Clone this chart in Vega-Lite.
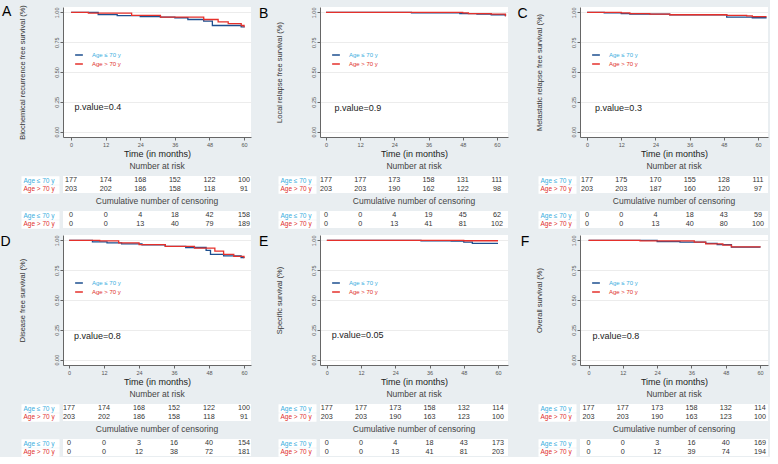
{
  "$schema": "https://vega.github.io/schema/vega-lite/v6.json",
  "background": "#e9eef1",
  "padding": {"left": 0, "top": 4, "right": 0, "bottom": 0},
  "datasets": {
    "km": [
      {"p":"A","g":"le","t":0,"s":1},{"p":"A","g":"le","t":9.4,"s":0.981},{"p":"A","g":"le","t":16,"s":0.973},{"p":"A","g":"le","t":24,"s":0.965},{"p":"A","g":"le","t":31,"s":0.96},{"p":"A","g":"le","t":36,"s":0.955},{"p":"A","g":"le","t":40.5,"s":0.94},{"p":"A","g":"le","t":46,"s":0.926},{"p":"A","g":"le","t":49,"s":0.89},{"p":"A","g":"le","t":59,"s":0.878},{"p":"A","g":"le","t":60,"s":0.873},
      {"p":"A","g":"gt","t":0,"s":1},{"p":"A","g":"gt","t":6,"s":0.994},{"p":"A","g":"gt","t":21,"s":0.975},{"p":"A","g":"gt","t":31,"s":0.96},{"p":"A","g":"gt","t":46,"s":0.94},{"p":"A","g":"gt","t":51,"s":0.92},{"p":"A","g":"gt","t":54.5,"s":0.906},{"p":"A","g":"gt","t":59,"s":0.89},{"p":"A","g":"gt","t":60,"s":0.875},
      {"p":"B","g":"le","t":0,"s":1},{"p":"B","g":"le","t":30,"s":0.996},{"p":"B","g":"le","t":47,"s":0.99},{"p":"B","g":"le","t":53,"s":0.985},{"p":"B","g":"le","t":58,"s":0.98},{"p":"B","g":"le","t":63,"s":0.968},
      {"p":"B","g":"gt","t":0,"s":1},{"p":"B","g":"gt","t":48,"s":0.995},{"p":"B","g":"gt","t":50,"s":0.99},{"p":"B","g":"gt","t":58,"s":0.985},{"p":"B","g":"gt","t":63,"s":0.968},
      {"p":"C","g":"le","t":0,"s":1},{"p":"C","g":"le","t":6,"s":0.997},{"p":"C","g":"le","t":12,"s":0.99},{"p":"C","g":"le","t":15,"s":0.985},{"p":"C","g":"le","t":29,"s":0.98},{"p":"C","g":"le","t":49,"s":0.96},{"p":"C","g":"le","t":58,"s":0.955},{"p":"C","g":"le","t":63,"s":0.955},
      {"p":"C","g":"gt","t":0,"s":1},{"p":"C","g":"gt","t":12,"s":0.995},{"p":"C","g":"gt","t":15,"s":0.99},{"p":"C","g":"gt","t":22,"s":0.985},{"p":"C","g":"gt","t":29,"s":0.98},{"p":"C","g":"gt","t":49,"s":0.975},{"p":"C","g":"gt","t":56,"s":0.97},{"p":"C","g":"gt","t":58,"s":0.965},{"p":"C","g":"gt","t":63,"s":0.965},
      {"p":"D","g":"le","t":0,"s":1},{"p":"D","g":"le","t":8,"s":0.987},{"p":"D","g":"le","t":13,"s":0.979},{"p":"D","g":"le","t":18,"s":0.97},{"p":"D","g":"le","t":25,"s":0.962},{"p":"D","g":"le","t":33,"s":0.95},{"p":"D","g":"le","t":40,"s":0.94},{"p":"D","g":"le","t":47,"s":0.916},{"p":"D","g":"le","t":48.5,"s":0.883},{"p":"D","g":"le","t":53,"s":0.87},{"p":"D","g":"le","t":59,"s":0.856},{"p":"D","g":"le","t":60,"s":0.855},
      {"p":"D","g":"gt","t":0,"s":1},{"p":"D","g":"gt","t":10.5,"s":0.995},{"p":"D","g":"gt","t":17,"s":0.979},{"p":"D","g":"gt","t":24,"s":0.965},{"p":"D","g":"gt","t":33,"s":0.95},{"p":"D","g":"gt","t":43,"s":0.935},{"p":"D","g":"gt","t":50,"s":0.91},{"p":"D","g":"gt","t":53,"s":0.883},{"p":"D","g":"gt","t":56.5,"s":0.865},{"p":"D","g":"gt","t":60,"s":0.85},
      {"p":"E","g":"le","t":0,"s":1},{"p":"E","g":"le","t":33,"s":0.997},{"p":"E","g":"le","t":43.6,"s":0.994},{"p":"E","g":"le","t":48,"s":0.985},{"p":"E","g":"le","t":51,"s":0.975},{"p":"E","g":"le","t":60,"s":0.975},
      {"p":"E","g":"gt","t":0,"s":1},{"p":"E","g":"gt","t":48,"s":0.997},{"p":"E","g":"gt","t":60,"s":0.997},
      {"p":"F","g":"le","t":0,"s":1},{"p":"F","g":"le","t":24,"s":0.99},{"p":"F","g":"le","t":32,"s":0.985},{"p":"F","g":"le","t":41,"s":0.975},{"p":"F","g":"le","t":45,"s":0.965},{"p":"F","g":"le","t":50,"s":0.943},{"p":"F","g":"le","t":60,"s":0.94},
      {"p":"F","g":"gt","t":0,"s":1},{"p":"F","g":"gt","t":18,"s":0.995},{"p":"F","g":"gt","t":37,"s":0.985},{"p":"F","g":"gt","t":41,"s":0.97},{"p":"F","g":"gt","t":47,"s":0.96},{"p":"F","g":"gt","t":50,"s":0.945},{"p":"F","g":"gt","t":60,"s":0.94}
    ],
    "tab": [
      {"p":"A","k":"r","g":"le","t":0,"n":177},{"p":"A","k":"r","g":"le","t":12,"n":174},{"p":"A","k":"r","g":"le","t":24,"n":168},{"p":"A","k":"r","g":"le","t":36,"n":152},{"p":"A","k":"r","g":"le","t":48,"n":122},{"p":"A","k":"r","g":"le","t":60,"n":100},
      {"p":"A","k":"r","g":"gt","t":0,"n":203},{"p":"A","k":"r","g":"gt","t":12,"n":202},{"p":"A","k":"r","g":"gt","t":24,"n":186},{"p":"A","k":"r","g":"gt","t":36,"n":158},{"p":"A","k":"r","g":"gt","t":48,"n":118},{"p":"A","k":"r","g":"gt","t":60,"n":91},
      {"p":"A","k":"c","g":"le","t":0,"n":0},{"p":"A","k":"c","g":"le","t":12,"n":0},{"p":"A","k":"c","g":"le","t":24,"n":4},{"p":"A","k":"c","g":"le","t":36,"n":18},{"p":"A","k":"c","g":"le","t":48,"n":42},{"p":"A","k":"c","g":"le","t":60,"n":158},
      {"p":"A","k":"c","g":"gt","t":0,"n":0},{"p":"A","k":"c","g":"gt","t":12,"n":0},{"p":"A","k":"c","g":"gt","t":24,"n":13},{"p":"A","k":"c","g":"gt","t":36,"n":40},{"p":"A","k":"c","g":"gt","t":48,"n":79},{"p":"A","k":"c","g":"gt","t":60,"n":189},
      {"p":"B","k":"r","g":"le","t":0,"n":177},{"p":"B","k":"r","g":"le","t":12,"n":177},{"p":"B","k":"r","g":"le","t":24,"n":173},{"p":"B","k":"r","g":"le","t":36,"n":158},{"p":"B","k":"r","g":"le","t":48,"n":131},{"p":"B","k":"r","g":"le","t":60,"n":111},
      {"p":"B","k":"r","g":"gt","t":0,"n":203},{"p":"B","k":"r","g":"gt","t":12,"n":203},{"p":"B","k":"r","g":"gt","t":24,"n":190},{"p":"B","k":"r","g":"gt","t":36,"n":162},{"p":"B","k":"r","g":"gt","t":48,"n":122},{"p":"B","k":"r","g":"gt","t":60,"n":98},
      {"p":"B","k":"c","g":"le","t":0,"n":0},{"p":"B","k":"c","g":"le","t":12,"n":0},{"p":"B","k":"c","g":"le","t":24,"n":4},{"p":"B","k":"c","g":"le","t":36,"n":19},{"p":"B","k":"c","g":"le","t":48,"n":45},{"p":"B","k":"c","g":"le","t":60,"n":62},
      {"p":"B","k":"c","g":"gt","t":0,"n":0},{"p":"B","k":"c","g":"gt","t":12,"n":0},{"p":"B","k":"c","g":"gt","t":24,"n":13},{"p":"B","k":"c","g":"gt","t":36,"n":41},{"p":"B","k":"c","g":"gt","t":48,"n":81},{"p":"B","k":"c","g":"gt","t":60,"n":102},
      {"p":"C","k":"r","g":"le","t":0,"n":177},{"p":"C","k":"r","g":"le","t":12,"n":175},{"p":"C","k":"r","g":"le","t":24,"n":170},{"p":"C","k":"r","g":"le","t":36,"n":155},{"p":"C","k":"r","g":"le","t":48,"n":128},{"p":"C","k":"r","g":"le","t":60,"n":111},
      {"p":"C","k":"r","g":"gt","t":0,"n":203},{"p":"C","k":"r","g":"gt","t":12,"n":203},{"p":"C","k":"r","g":"gt","t":24,"n":187},{"p":"C","k":"r","g":"gt","t":36,"n":160},{"p":"C","k":"r","g":"gt","t":48,"n":120},{"p":"C","k":"r","g":"gt","t":60,"n":97},
      {"p":"C","k":"c","g":"le","t":0,"n":0},{"p":"C","k":"c","g":"le","t":12,"n":0},{"p":"C","k":"c","g":"le","t":24,"n":4},{"p":"C","k":"c","g":"le","t":36,"n":18},{"p":"C","k":"c","g":"le","t":48,"n":43},{"p":"C","k":"c","g":"le","t":60,"n":59},
      {"p":"C","k":"c","g":"gt","t":0,"n":0},{"p":"C","k":"c","g":"gt","t":12,"n":0},{"p":"C","k":"c","g":"gt","t":24,"n":13},{"p":"C","k":"c","g":"gt","t":36,"n":40},{"p":"C","k":"c","g":"gt","t":48,"n":80},{"p":"C","k":"c","g":"gt","t":60,"n":100},
      {"p":"D","k":"r","g":"le","t":0,"n":177},{"p":"D","k":"r","g":"le","t":12,"n":174},{"p":"D","k":"r","g":"le","t":24,"n":168},{"p":"D","k":"r","g":"le","t":36,"n":152},{"p":"D","k":"r","g":"le","t":48,"n":122},{"p":"D","k":"r","g":"le","t":60,"n":100},
      {"p":"D","k":"r","g":"gt","t":0,"n":203},{"p":"D","k":"r","g":"gt","t":12,"n":202},{"p":"D","k":"r","g":"gt","t":24,"n":186},{"p":"D","k":"r","g":"gt","t":36,"n":158},{"p":"D","k":"r","g":"gt","t":48,"n":118},{"p":"D","k":"r","g":"gt","t":60,"n":91},
      {"p":"D","k":"c","g":"le","t":0,"n":0},{"p":"D","k":"c","g":"le","t":12,"n":0},{"p":"D","k":"c","g":"le","t":24,"n":3},{"p":"D","k":"c","g":"le","t":36,"n":16},{"p":"D","k":"c","g":"le","t":48,"n":40},{"p":"D","k":"c","g":"le","t":60,"n":154},
      {"p":"D","k":"c","g":"gt","t":0,"n":0},{"p":"D","k":"c","g":"gt","t":12,"n":0},{"p":"D","k":"c","g":"gt","t":24,"n":12},{"p":"D","k":"c","g":"gt","t":36,"n":38},{"p":"D","k":"c","g":"gt","t":48,"n":72},{"p":"D","k":"c","g":"gt","t":60,"n":181},
      {"p":"E","k":"r","g":"le","t":0,"n":177},{"p":"E","k":"r","g":"le","t":12,"n":177},{"p":"E","k":"r","g":"le","t":24,"n":173},{"p":"E","k":"r","g":"le","t":36,"n":158},{"p":"E","k":"r","g":"le","t":48,"n":132},{"p":"E","k":"r","g":"le","t":60,"n":114},
      {"p":"E","k":"r","g":"gt","t":0,"n":203},{"p":"E","k":"r","g":"gt","t":12,"n":203},{"p":"E","k":"r","g":"gt","t":24,"n":190},{"p":"E","k":"r","g":"gt","t":36,"n":163},{"p":"E","k":"r","g":"gt","t":48,"n":123},{"p":"E","k":"r","g":"gt","t":60,"n":100},
      {"p":"E","k":"c","g":"le","t":0,"n":0},{"p":"E","k":"c","g":"le","t":12,"n":0},{"p":"E","k":"c","g":"le","t":24,"n":4},{"p":"E","k":"c","g":"le","t":36,"n":18},{"p":"E","k":"c","g":"le","t":48,"n":43},{"p":"E","k":"c","g":"le","t":60,"n":173},
      {"p":"E","k":"c","g":"gt","t":0,"n":0},{"p":"E","k":"c","g":"gt","t":12,"n":0},{"p":"E","k":"c","g":"gt","t":24,"n":13},{"p":"E","k":"c","g":"gt","t":36,"n":41},{"p":"E","k":"c","g":"gt","t":48,"n":81},{"p":"E","k":"c","g":"gt","t":60,"n":203},
      {"p":"F","k":"r","g":"le","t":0,"n":177},{"p":"F","k":"r","g":"le","t":12,"n":177},{"p":"F","k":"r","g":"le","t":24,"n":173},{"p":"F","k":"r","g":"le","t":36,"n":158},{"p":"F","k":"r","g":"le","t":48,"n":132},{"p":"F","k":"r","g":"le","t":60,"n":114},
      {"p":"F","k":"r","g":"gt","t":0,"n":203},{"p":"F","k":"r","g":"gt","t":12,"n":203},{"p":"F","k":"r","g":"gt","t":24,"n":190},{"p":"F","k":"r","g":"gt","t":36,"n":163},{"p":"F","k":"r","g":"gt","t":48,"n":123},{"p":"F","k":"r","g":"gt","t":60,"n":100},
      {"p":"F","k":"c","g":"le","t":0,"n":0},{"p":"F","k":"c","g":"le","t":12,"n":0},{"p":"F","k":"c","g":"le","t":24,"n":3},{"p":"F","k":"c","g":"le","t":36,"n":16},{"p":"F","k":"c","g":"le","t":48,"n":40},{"p":"F","k":"c","g":"le","t":60,"n":169},
      {"p":"F","k":"c","g":"gt","t":0,"n":0},{"p":"F","k":"c","g":"gt","t":12,"n":0},{"p":"F","k":"c","g":"gt","t":24,"n":12},{"p":"F","k":"c","g":"gt","t":36,"n":39},{"p":"F","k":"c","g":"gt","t":48,"n":74},{"p":"F","k":"c","g":"gt","t":60,"n":194}
    ]
  },
  "columns": 3,
  "spacing": {"row": 6, "column": 8},
  "resolve": {"scale": {"color": "independent", "x": "independent", "y": "independent"}, "legend": {"color": "independent"}},
  "concat": [
    {
      "title": {"text": "A", "orient": "left", "angle": 0, "anchor": "end", "fontSize": 14, "color": "#000", "offset": -4},
      "spacing": 3,
      "vconcat": [
        {
          "width": 188, "height": 130,
          "layer": [
            {
              "data": {"name": "km"},
              "transform": [{"filter": "datum.p == 'A'"}],
              "mark": {"type": "line", "interpolate": "step-after", "strokeWidth": 1.3},
              "encoding": {
                "x": {"field": "t", "type": "quantitative", "scale": {"domain": [-2.8, 62.4], "nice": false, "zero": false}, "axis": {"title": "Time (in months)", "values": [0, 12, 24, 36, 48, 60], "grid": false}},
                "y": {"field": "s", "type": "quantitative", "scale": {"domain": [-0.045, 1.045], "nice": false, "zero": false}, "axis": {"title": "Biochemical recurrence free survival (%)", "values": [0, 0.25, 0.5, 0.75, 1], "format": ".2f"}},
                "color": {"field": "g", "type": "nominal", "scale": {"domain": ["le", "gt"], "range": ["#1d4f8f", "#e5302b"]}, "legend": {"orient": "none", "legendX": 11, "legendY": 43, "labelExpr": "datum.value == 'le' ? 'Age ≤ 70 y' : 'Age > 70 y'", "encode": {"labels": {"update": {"fill": {"signal": "datum.value == 'le' ? '#3aaee0' : '#e0302b'"}}}}}}
              }
            },
            {
              "data": {"values": [{"label": "p.value=0.4"}]},
              "mark": {"type": "text", "align": "left", "fontSize": 9, "color": "#222"},
              "encoding": {"x": {"datum": 1.2}, "y": {"datum": 0.205}, "text": {"field": "label"}}
            }
          ]
        },
        {
          "width": 188, "height": 17,
          "title": "Number at risk",
          "data": {"name": "tab"},
          "transform": [{"filter": "datum.p == 'A' && datum.k == 'r'"}],
          "mark": {"type": "text", "fontSize": 7.2, "color": "#333"},
          "encoding": {
            "x": {"field": "t", "type": "quantitative", "scale": {"domain": [-2.8, 62.4], "nice": false, "zero": false}, "axis": null},
            "y": {"field": "g", "type": "nominal", "sort": ["le", "gt"]},
            "text": {"field": "n", "type": "quantitative"}
          }
        },
        {
          "width": 188, "height": 17,
          "title": "Cumulative number of censoring",
          "data": {"name": "tab"},
          "transform": [{"filter": "datum.p == 'A' && datum.k == 'c'"}],
          "mark": {"type": "text", "fontSize": 7.2, "color": "#333"},
          "encoding": {
            "x": {"field": "t", "type": "quantitative", "scale": {"domain": [-2.8, 62.4], "nice": false, "zero": false}, "axis": null},
            "y": {"field": "g", "type": "nominal", "sort": ["le", "gt"]},
            "text": {"field": "n", "type": "quantitative"}
          }
        }
      ]
    },
    {
      "title": {"text": "B", "orient": "left", "angle": 0, "anchor": "end", "fontSize": 14, "color": "#000", "offset": -4},
      "spacing": 3,
      "vconcat": [
        {
          "width": 188, "height": 130,
          "layer": [
            {
              "data": {"name": "km"},
              "transform": [{"filter": "datum.p == 'B'"}],
              "mark": {"type": "line", "interpolate": "step-after", "strokeWidth": 1.3},
              "encoding": {
                "x": {"field": "t", "type": "quantitative", "scale": {"domain": [-2.1, 63.9], "nice": false, "zero": false}, "axis": {"title": "Time (in months)", "values": [0, 12, 24, 36, 48, 60], "grid": false}},
                "y": {"field": "s", "type": "quantitative", "scale": {"domain": [-0.045, 1.045], "nice": false, "zero": false}, "axis": {"title": "Local relapse free survival (%)", "values": [0, 0.25, 0.5, 0.75, 1], "format": ".2f"}},
                "color": {"field": "g", "type": "nominal", "scale": {"domain": ["le", "gt"], "range": ["#1d4f8f", "#e5302b"]}, "legend": {"orient": "none", "legendX": 11, "legendY": 43, "labelExpr": "datum.value == 'le' ? 'Age ≤ 70 y' : 'Age > 70 y'", "encode": {"labels": {"update": {"fill": {"signal": "datum.value == 'le' ? '#3aaee0' : '#e0302b'"}}}}}}
              }
            },
            {
              "data": {"values": [{"label": "p.value=0.9"}]},
              "mark": {"type": "text", "align": "left", "fontSize": 9, "color": "#222"},
              "encoding": {"x": {"datum": 3}, "y": {"datum": 0.2}, "text": {"field": "label"}}
            }
          ]
        },
        {
          "width": 188, "height": 17,
          "title": "Number at risk",
          "data": {"name": "tab"},
          "transform": [{"filter": "datum.p == 'B' && datum.k == 'r'"}],
          "mark": {"type": "text", "fontSize": 7.2, "color": "#333"},
          "encoding": {
            "x": {"field": "t", "type": "quantitative", "scale": {"domain": [-2.1, 63.9], "nice": false, "zero": false}, "axis": null},
            "y": {"field": "g", "type": "nominal", "sort": ["le", "gt"]},
            "text": {"field": "n", "type": "quantitative"}
          }
        },
        {
          "width": 188, "height": 17,
          "title": "Cumulative number of censoring",
          "data": {"name": "tab"},
          "transform": [{"filter": "datum.p == 'B' && datum.k == 'c'"}],
          "mark": {"type": "text", "fontSize": 7.2, "color": "#333"},
          "encoding": {
            "x": {"field": "t", "type": "quantitative", "scale": {"domain": [-2.1, 63.9], "nice": false, "zero": false}, "axis": null},
            "y": {"field": "g", "type": "nominal", "sort": ["le", "gt"]},
            "text": {"field": "n", "type": "quantitative"}
          }
        }
      ]
    },
    {
      "title": {"text": "C", "orient": "left", "angle": 0, "anchor": "end", "fontSize": 14, "color": "#000", "offset": -4},
      "spacing": 3,
      "vconcat": [
        {
          "width": 188, "height": 130,
          "layer": [
            {
              "data": {"name": "km"},
              "transform": [{"filter": "datum.p == 'C'"}],
              "mark": {"type": "line", "interpolate": "step-after", "strokeWidth": 1.3},
              "encoding": {
                "x": {"field": "t", "type": "quantitative", "scale": {"domain": [-2.5, 63.5], "nice": false, "zero": false}, "axis": {"title": "Time (in months)", "values": [0, 12, 24, 36, 48, 60], "grid": false}},
                "y": {"field": "s", "type": "quantitative", "scale": {"domain": [-0.045, 1.045], "nice": false, "zero": false}, "axis": {"title": "Metastatic relapse free survival (%)", "values": [0, 0.25, 0.5, 0.75, 1], "format": ".2f"}},
                "color": {"field": "g", "type": "nominal", "scale": {"domain": ["le", "gt"], "range": ["#1d4f8f", "#e5302b"]}, "legend": {"orient": "none", "legendX": 11, "legendY": 43, "labelExpr": "datum.value == 'le' ? 'Age ≤ 70 y' : 'Age > 70 y'", "encode": {"labels": {"update": {"fill": {"signal": "datum.value == 'le' ? '#3aaee0' : '#e0302b'"}}}}}}
              }
            },
            {
              "data": {"values": [{"label": "p.value=0.3"}]},
              "mark": {"type": "text", "align": "left", "fontSize": 9, "color": "#222"},
              "encoding": {"x": {"datum": 2.8}, "y": {"datum": 0.2}, "text": {"field": "label"}}
            }
          ]
        },
        {
          "width": 188, "height": 17,
          "title": "Number at risk",
          "data": {"name": "tab"},
          "transform": [{"filter": "datum.p == 'C' && datum.k == 'r'"}],
          "mark": {"type": "text", "fontSize": 7.2, "color": "#333"},
          "encoding": {
            "x": {"field": "t", "type": "quantitative", "scale": {"domain": [-2.5, 63.5], "nice": false, "zero": false}, "axis": null},
            "y": {"field": "g", "type": "nominal", "sort": ["le", "gt"]},
            "text": {"field": "n", "type": "quantitative"}
          }
        },
        {
          "width": 188, "height": 17,
          "title": "Cumulative number of censoring",
          "data": {"name": "tab"},
          "transform": [{"filter": "datum.p == 'C' && datum.k == 'c'"}],
          "mark": {"type": "text", "fontSize": 7.2, "color": "#333"},
          "encoding": {
            "x": {"field": "t", "type": "quantitative", "scale": {"domain": [-2.5, 63.5], "nice": false, "zero": false}, "axis": null},
            "y": {"field": "g", "type": "nominal", "sort": ["le", "gt"]},
            "text": {"field": "n", "type": "quantitative"}
          }
        }
      ]
    },
    {
      "title": {"text": "D", "orient": "left", "angle": 0, "anchor": "end", "fontSize": 14, "color": "#000", "offset": -4},
      "spacing": 3,
      "vconcat": [
        {
          "width": 188, "height": 130,
          "layer": [
            {
              "data": {"name": "km"},
              "transform": [{"filter": "datum.p == 'D'"}],
              "mark": {"type": "line", "interpolate": "step-after", "strokeWidth": 1.3},
              "encoding": {
                "x": {"field": "t", "type": "quantitative", "scale": {"domain": [-2.1, 62.4], "nice": false, "zero": false}, "axis": {"title": "Time (in months)", "values": [0, 12, 24, 36, 48, 60], "grid": false}},
                "y": {"field": "s", "type": "quantitative", "scale": {"domain": [-0.045, 1.045], "nice": false, "zero": false}, "axis": {"title": "Disease free survival (%)", "values": [0, 0.25, 0.5, 0.75, 1], "format": ".2f"}},
                "color": {"field": "g", "type": "nominal", "scale": {"domain": ["le", "gt"], "range": ["#1d4f8f", "#e5302b"]}, "legend": {"orient": "none", "legendX": 11, "legendY": 43, "labelExpr": "datum.value == 'le' ? 'Age ≤ 70 y' : 'Age > 70 y'", "encode": {"labels": {"update": {"fill": {"signal": "datum.value == 'le' ? '#3aaee0' : '#e0302b'"}}}}}}
              }
            },
            {
              "data": {"values": [{"label": "p.value=0.8"}]},
              "mark": {"type": "text", "align": "left", "fontSize": 9, "color": "#222"},
              "encoding": {"x": {"datum": 1.7}, "y": {"datum": 0.2}, "text": {"field": "label"}}
            }
          ]
        },
        {
          "width": 188, "height": 17,
          "title": "Number at risk",
          "data": {"name": "tab"},
          "transform": [{"filter": "datum.p == 'D' && datum.k == 'r'"}],
          "mark": {"type": "text", "fontSize": 7.2, "color": "#333"},
          "encoding": {
            "x": {"field": "t", "type": "quantitative", "scale": {"domain": [-2.1, 62.4], "nice": false, "zero": false}, "axis": null},
            "y": {"field": "g", "type": "nominal", "sort": ["le", "gt"]},
            "text": {"field": "n", "type": "quantitative"}
          }
        },
        {
          "width": 188, "height": 17,
          "title": "Cumulative number of censoring",
          "data": {"name": "tab"},
          "transform": [{"filter": "datum.p == 'D' && datum.k == 'c'"}],
          "mark": {"type": "text", "fontSize": 7.2, "color": "#333"},
          "encoding": {
            "x": {"field": "t", "type": "quantitative", "scale": {"domain": [-2.1, 62.4], "nice": false, "zero": false}, "axis": null},
            "y": {"field": "g", "type": "nominal", "sort": ["le", "gt"]},
            "text": {"field": "n", "type": "quantitative"}
          }
        }
      ]
    },
    {
      "title": {"text": "E", "orient": "left", "angle": 0, "anchor": "end", "fontSize": 14, "color": "#000", "offset": -4},
      "spacing": 3,
      "vconcat": [
        {
          "width": 188, "height": 130,
          "layer": [
            {
              "data": {"name": "km"},
              "transform": [{"filter": "datum.p == 'E'"}],
              "mark": {"type": "line", "interpolate": "step-after", "strokeWidth": 1.3},
              "encoding": {
                "x": {"field": "t", "type": "quantitative", "scale": {"domain": [-2.4, 63.5], "nice": false, "zero": false}, "axis": {"title": "Time (in months)", "values": [0, 12, 24, 36, 48, 60], "grid": false}},
                "y": {"field": "s", "type": "quantitative", "scale": {"domain": [-0.045, 1.045], "nice": false, "zero": false}, "axis": {"title": "Specific survival (%)", "values": [0, 0.25, 0.5, 0.75, 1], "format": ".2f"}},
                "color": {"field": "g", "type": "nominal", "scale": {"domain": ["le", "gt"], "range": ["#1d4f8f", "#e5302b"]}, "legend": {"orient": "none", "legendX": 11, "legendY": 43, "labelExpr": "datum.value == 'le' ? 'Age ≤ 70 y' : 'Age > 70 y'", "encode": {"labels": {"update": {"fill": {"signal": "datum.value == 'le' ? '#3aaee0' : '#e0302b'"}}}}}}
              }
            },
            {
              "data": {"values": [{"label": "p.value=0.05"}]},
              "mark": {"type": "text", "align": "left", "fontSize": 9, "color": "#222"},
              "encoding": {"x": {"datum": 1.7}, "y": {"datum": 0.205}, "text": {"field": "label"}}
            }
          ]
        },
        {
          "width": 188, "height": 17,
          "title": "Number at risk",
          "data": {"name": "tab"},
          "transform": [{"filter": "datum.p == 'E' && datum.k == 'r'"}],
          "mark": {"type": "text", "fontSize": 7.2, "color": "#333"},
          "encoding": {
            "x": {"field": "t", "type": "quantitative", "scale": {"domain": [-2.4, 63.5], "nice": false, "zero": false}, "axis": null},
            "y": {"field": "g", "type": "nominal", "sort": ["le", "gt"]},
            "text": {"field": "n", "type": "quantitative"}
          }
        },
        {
          "width": 188, "height": 17,
          "title": "Cumulative number of censoring",
          "data": {"name": "tab"},
          "transform": [{"filter": "datum.p == 'E' && datum.k == 'c'"}],
          "mark": {"type": "text", "fontSize": 7.2, "color": "#333"},
          "encoding": {
            "x": {"field": "t", "type": "quantitative", "scale": {"domain": [-2.4, 63.5], "nice": false, "zero": false}, "axis": null},
            "y": {"field": "g", "type": "nominal", "sort": ["le", "gt"]},
            "text": {"field": "n", "type": "quantitative"}
          }
        }
      ]
    },
    {
      "title": {"text": "F", "orient": "left", "angle": 0, "anchor": "end", "fontSize": 14, "color": "#000", "offset": -4},
      "spacing": 3,
      "vconcat": [
        {
          "width": 188, "height": 130,
          "layer": [
            {
              "data": {"name": "km"},
              "transform": [{"filter": "datum.p == 'F'"}],
              "mark": {"type": "line", "interpolate": "step-after", "strokeWidth": 1.3},
              "encoding": {
                "x": {"field": "t", "type": "quantitative", "scale": {"domain": [-3, 62.8], "nice": false, "zero": false}, "axis": {"title": "Time (in months)", "values": [0, 12, 24, 36, 48, 60], "grid": false}},
                "y": {"field": "s", "type": "quantitative", "scale": {"domain": [-0.045, 1.045], "nice": false, "zero": false}, "axis": {"title": "Overall survival (%)", "values": [0, 0.25, 0.5, 0.75, 1], "format": ".2f"}},
                "color": {"field": "g", "type": "nominal", "scale": {"domain": ["le", "gt"], "range": ["#1d4f8f", "#e5302b"]}, "legend": {"orient": "none", "legendX": 11, "legendY": 43, "labelExpr": "datum.value == 'le' ? 'Age ≤ 70 y' : 'Age > 70 y'", "encode": {"labels": {"update": {"fill": {"signal": "datum.value == 'le' ? '#3aaee0' : '#e0302b'"}}}}}}
              }
            },
            {
              "data": {"values": [{"label": "p.value=0.8"}]},
              "mark": {"type": "text", "align": "left", "fontSize": 9, "color": "#222"},
              "encoding": {"x": {"datum": 1.4}, "y": {"datum": 0.2}, "text": {"field": "label"}}
            }
          ]
        },
        {
          "width": 188, "height": 17,
          "title": "Number at risk",
          "data": {"name": "tab"},
          "transform": [{"filter": "datum.p == 'F' && datum.k == 'r'"}],
          "mark": {"type": "text", "fontSize": 7.2, "color": "#333"},
          "encoding": {
            "x": {"field": "t", "type": "quantitative", "scale": {"domain": [-3, 62.8], "nice": false, "zero": false}, "axis": null},
            "y": {"field": "g", "type": "nominal", "sort": ["le", "gt"]},
            "text": {"field": "n", "type": "quantitative"}
          }
        },
        {
          "width": 188, "height": 17,
          "title": "Cumulative number of censoring",
          "data": {"name": "tab"},
          "transform": [{"filter": "datum.p == 'F' && datum.k == 'c'"}],
          "mark": {"type": "text", "fontSize": 7.2, "color": "#333"},
          "encoding": {
            "x": {"field": "t", "type": "quantitative", "scale": {"domain": [-3, 62.8], "nice": false, "zero": false}, "axis": null},
            "y": {"field": "g", "type": "nominal", "sort": ["le", "gt"]},
            "text": {"field": "n", "type": "quantitative"}
          }
        }
      ]
    }
  ],
  "config": {
    "font": "Liberation Sans",
    "view": {"fill": "white", "stroke": null},
    "title": {"fontSize": 8.5, "fontWeight": "normal", "color": "#444", "offset": 5, "anchor": "middle"},
    "axis": {"labelOverlap": false},
    "axisX": {"titleFontSize": 9, "titleFontWeight": "normal", "titleColor": "#222", "titlePadding": 2, "labelFontSize": 5.5, "labelColor": "#555", "labelPadding": 2, "tickSize": 3, "tickColor": "#666", "domainColor": "#666", "grid": false, "labelOverlap": false, "tickCount": 20},
    "axisY": {"titleFontSize": 7.5, "titleFontWeight": "normal", "titleColor": "#333", "labelColor": "#555", "tickColor": "#666", "domainColor": "#666", "labelOverlap": false},
    "axisYQuantitative": {"grid": true, "gridColor": "#ececec", "labelAngle": -90, "labelFontSize": 5.5, "labelPadding": 1, "tickSize": 3, "titlePadding": 28, "tickCount": 20},
    "axisYPoint": {"title": null, "domain": false, "offset": 4, "ticks": true, "tickSize": 38, "tickWidth": 8.5, "tickColor": "white", "tickCap": "butt", "grid": false, "labelFontSize": 6.5, "labelAlign": "left", "labelPadding": -2, "labelExpr": "datum.value == 'le' ? 'Age ≤ 70 y' : 'Age > 70 y'", "labelColor": {"condition": {"test": "datum.value == 'le'", "value": "#3aaee0"}, "value": "#e0302b"}},
    "legend": {"title": null, "symbolType": "stroke", "symbolStrokeWidth": 1.5, "symbolSize": 60, "labelFontSize": 6, "rowPadding": 1, "labelOffset": 8}
  }
}
